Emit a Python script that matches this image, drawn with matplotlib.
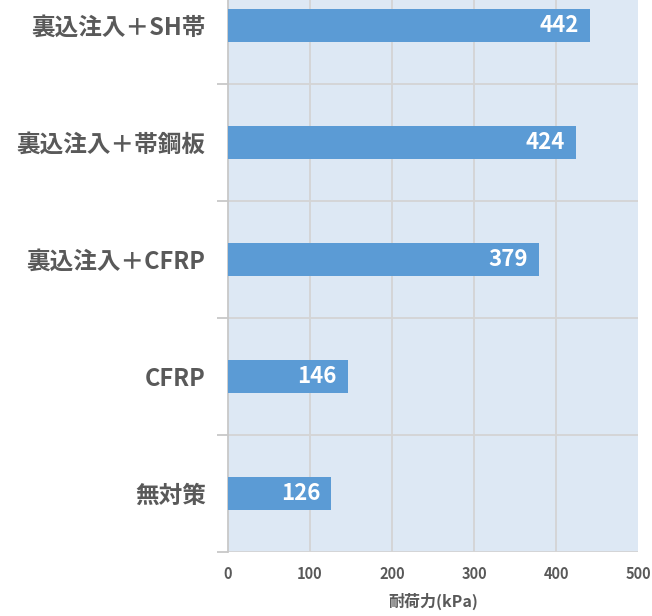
import matplotlib
matplotlib.use("Agg")
import matplotlib.pyplot as plt
import numpy as np

categories = ["無対策", "CFRP", "裏込注入＋CFRP", "裏込注入＋帯鋼板", "裏込注入＋SH帯"]
values = [126, 146, 379, 424, 442]
xticks = [0, 100, 200, 300, 400, 500]
xlabel = "耐荷力(kPa)"

plt.rcParams['font.family'] = ['Noto Sans CJK JP', 'DejaVu Sans']

fig = plt.figure(figsize=(6.52, 6.16), dpi=100)
ax = fig.add_axes([228/652, (616-552)/616, 410/652, 585/616])
ax.set_facecolor('#dde8f4')

y = np.arange(len(categories))
ax.barh(y, values, height=0.29, color='#5b9bd5', zorder=3)
for yi, v in zip(y, values):
    ax.annotate(str(v), xy=(v, yi), xytext=(-8, 0), textcoords='offset points',
                ha='right', va='center', color='white', fontsize=16,
                fontweight='bold', zorder=4)

ax.set_xlim(0, 500)
ax.set_ylim(-0.5, len(categories) - 0.5)
ax.set_xticks(xticks)
ax.set_xticklabels([str(t) for t in xticks])
ax.set_yticks(y)
ax.set_yticklabels(categories)
ax.set_yticks(np.arange(-0.5, len(categories), 1.0), minor=True)

ax.grid(axis='x', which='major', color='#d4d4d4', linewidth=1.3, zorder=1)
ax.grid(axis='y', which='minor', color='#d4d4d4', linewidth=1.3, zorder=1)
ax.grid(axis='y', which='major', visible=False)
gl = ax.xaxis.get_gridlines()
gl[0].set_visible(False)
gl[-1].set_visible(False)

for s in ['top', 'right', 'bottom']:
    ax.spines[s].set_visible(False)
ax.spines['left'].set_color('#c8c8c8')
ax.spines['left'].set_linewidth(1.3)

ax.tick_params(axis='x', which='both', length=0, pad=10, labelsize=10.5,
               labelcolor='#595959')
ax.tick_params(axis='y', which='major', length=0, pad=16, labelsize=17,
               labelcolor='#595959')
ax.tick_params(axis='y', which='minor', length=8, color='#c8c8c8', width=1.3)
for lbl in ax.get_xticklabels() + ax.get_yticklabels():
    lbl.set_fontweight('bold')

ax.set_xlabel(xlabel, fontsize=11.5, fontweight='bold', color='#595959', labelpad=8)

fig.savefig('out.png', dpi=100)
